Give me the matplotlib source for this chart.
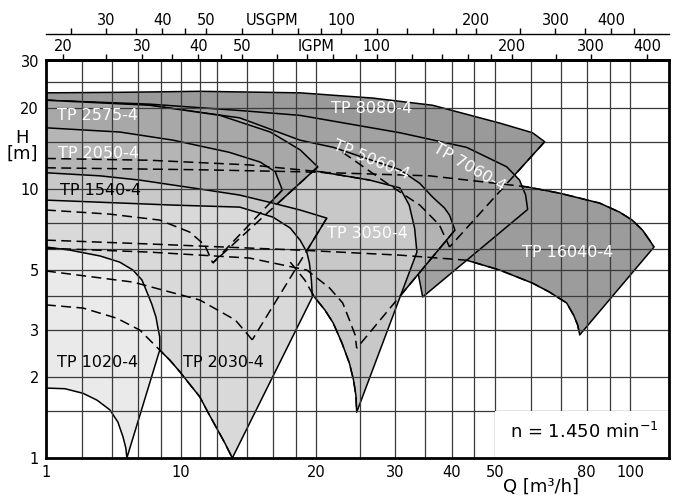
import matplotlib
matplotlib.use("Agg")
import matplotlib.pyplot as plt
from matplotlib.patches import Polygon, Rectangle
from matplotlib.ticker import NullLocator, FixedLocator, FixedFormatter

# ----------------------------- data -----------------------------
# Q in m3/h, H in m ; each pump: max-impeller curve and min-impeller curve (left -> right)
tp16040_max_q = [5, 11.0, 18.4, 35.8, 58.7, 69.6, 85.5, 94.7, 101, 106.5, 110.4, 113]
tp16040_max_h = [12.0, 11.8, 11.6, 11.2, 10.2, 9.66, 8.87, 8.21, 7.67, 7.04, 6.46, 6.09]
tp16040_min_q = [5, 8.5, 18.4, 30.7, 43.2, 51.2, 60.6, 66.1, 72.2, 74.8, 76.4, 77.2]
tp16040_min_h = [6.46, 6.25, 5.93, 5.68, 5.44, 5.0, 4.47, 4.14, 3.77, 3.40, 3.12, 2.87]

tp8080_max_q = [5, 7.3, 11.0, 18.4, 26.7, 36.3, 51.2, 60.6, 64.5]
tp8080_max_h = [22.8, 22.9, 23.1, 22.8, 21.8, 20.5, 17.6, 16.2, 15.0]
tp8080_min_q = [5, 8.5, 14.2, 22.9, 29.1, 34.0, 37.6, 39.6]
tp8080_min_h = [17.3, 16.9, 15.9, 13.7, 10.35, 8.72, 7.35, 6.09]

tp7060_max_q = [5, 8.5, 13.5, 18.4, 30.7, 43.2, 53.1, 56.7, 58.5, 59.1]
tp7060_max_h = [21.4, 20.7, 19.6, 18.8, 16.2, 14.3, 12.1, 10.8, 9.5, 8.4]
tp7060_min_q = [5, 8.5, 14.2, 23.7, 30.7, 33.6, 34.1, 34.5]
tp7060_min_h = [8.0, 7.67, 7.04, 6.19, 5.54, 5.0, 4.4, 3.97]

tp5060_max_q = [5, 8.5, 13.5, 18.4, 21.8, 30.7, 34.0, 36.3, 38.6, 39.6, 40.7]
tp5060_max_h = [21.4, 20.5, 18.4, 15.2, 14.3, 11.8, 10.5, 9.34, 8.5, 8.0, 7.04]
tp5060_min_q = [5, 8.5, 14.2, 19.05, 21.4, 22.9, 23.7, 24.4, 24.6]
tp5060_min_h = [6.03, 5.83, 5.54, 5.0, 4.29, 3.77, 3.26, 2.87, 2.56]

tp3050_max_q = [5, 8.5, 14.2, 20.4, 26.3, 30.7, 32.2, 33.1, 33.5]
tp3050_max_h = [13.0, 12.8, 12.3, 11.6, 10.8, 10.1, 8.72, 7.16, 5.83]
tp3050_min_q = [5, 11.0, 17.5, 18.85, 19.8, 20.9, 21.8, 22.8, 23.7, 24.2, 24.5, 24.6]
tp3050_min_h = [5.83, 5.64, 5.35, 4.59, 3.97, 3.55, 3.18, 2.68, 2.25, 1.95, 1.71, 1.48]

tp2575_max_q = [5, 8.5, 12.2, 15.8, 18.4, 20.15]
tp2575_max_h = [21.4, 20.5, 18.8, 16.3, 14.0, 12.1]
tp2575_min_q = [5, 6.94, 8.96, 10.45, 11.29, 11.76]
tp2575_min_h = [8.36, 8.07, 7.67, 6.92, 6.19, 5.31]

tp2050_max_q = [5, 7.3, 9.6, 12.8, 15.0, 16.2, 16.8]
tp2050_max_h = [16.9, 16.3, 15.2, 13.7, 12.6, 11.6, 9.92]
tp2050_min_q = [5, 6.94, 8.96, 10.45, 11.29, 11.76]
tp2050_min_h = [8.36, 8.07, 7.67, 6.92, 6.19, 5.31]

tp1540_max_q = [5, 6.6, 8.09, 11.4, 13.5, 16.0, 18.4, 21.1]
tp1540_max_h = [11.5, 11.2, 10.8, 9.92, 9.5, 8.87, 8.36, 7.8]
tp1540_min_q = [5, 7.81, 11.0, 13.2, 14.4]
tp1540_min_h = [4.96, 4.51, 3.87, 3.26, 2.75]

tp2030_max_q = [5, 9.6, 13.5, 16.0, 17.5, 18.4, 19.05, 19.3, 19.5, 19.6]
tp2030_max_h = [9.1, 8.72, 8.57, 7.87, 7.16, 6.46, 5.83, 5.31, 4.59, 3.97]
tp2030_min_q = [5, 6.05, 7.19, 8.09, 8.96, 9.44, 9.94, 10.45, 11.0, 11.47, 12.0, 12.5, 13.0]
tp2030_min_h = [3.71, 3.61, 3.31, 2.99, 2.52, 2.31, 2.09, 1.88, 1.69, 1.48, 1.29, 1.14, 1.0]

tp1020_max_q = [5, 5.65, 6.6, 7.3, 7.81, 8.18, 8.39, 8.6, 8.79, 8.87, 8.96, 8.96]
tp1020_max_h = [6.09, 5.93, 5.64, 5.35, 5.0, 4.59, 4.14, 3.74, 3.34, 3.07, 2.82, 2.52]
tp1020_min_q = [5, 5.51, 6.05, 6.5, 6.94, 7.23, 7.42, 7.53, 7.57]
tp1020_min_h = [1.82, 1.81, 1.74, 1.64, 1.51, 1.36, 1.2, 1.09, 1.0]

# axis ticks / grid
x_tick_vals = [5, 10, 20, 30, 40, 50, 80, 100]
x_tick_labels = ["1", "10", "20", "30", "40", "50", "80", "100"]
y_tick_vals = [1, 2, 3, 5, 10, 20, 30]
y_tick_labels = ["1", "2", "3", "5", "10", "20", "30"]
grid_q = [6, 7, 8, 9, 10, 11, 12, 14, 16, 18, 20, 25, 30, 35, 40, 45, 50, 60, 70, 80, 90, 100]
grid_h = [1.5, 2, 3, 4, 5, 6, 7.5, 10, 15, 20, 25]
usgpm_ticks = [25, 30, 35, 40, 45, 50, 60, 70, 80, 90, 100, 120, 140, 160, 180, 200,
               250, 300, 350, 400, 450]
usgpm_labels = {30: "30", 40: "40", 50: "50", 70: "USGPM", 100: "100", 200: "200",
                300: "300", 400: "400"}
igpm_ticks = [20, 25, 30, 35, 40, 45, 50, 60, 70, 80, 90, 100, 120, 140, 160, 180, 200,
              250, 300, 400]
igpm_labels = {20: "20", 30: "30", 40: "40", 50: "50", 100: "100", 200: "200",
               300: "300", 400: "400"}

# ----------------------------- figure -----------------------------
fig = plt.figure(figsize=(6.78, 4.98), dpi=100)
ax = fig.add_axes([0.0678, 0.0803, 0.9189, 0.7992])
ax.set_xscale("log")
ax.set_yscale("log")
ax.set_xlim(5, 122)
ax.set_ylim(1, 30.2)

pumps = [  # back -> front
    (tp16040_max_q, tp16040_max_h, tp16040_min_q, tp16040_min_h, "#9c9c9c"),
    (tp8080_max_q, tp8080_max_h, tp8080_min_q, tp8080_min_h, "#9a9a9a"),
    (tp7060_max_q, tp7060_max_h, tp7060_min_q, tp7060_min_h, "#a2a2a2"),
    (tp5060_max_q, tp5060_max_h, tp5060_min_q, tp5060_min_h, "#b3b3b3"),
    (tp3050_max_q, tp3050_max_h, tp3050_min_q, tp3050_min_h, "#c8c8c8"),
    (tp2575_max_q, tp2575_max_h, tp2575_min_q, tp2575_min_h, "#a8a8a8"),
    (tp2050_max_q, tp2050_max_h, tp2050_min_q, tp2050_min_h, "#b5b5b5"),
    (tp1540_max_q, tp1540_max_h, tp1540_min_q, tp1540_min_h, "#c9c9c9"),
    (tp2030_max_q, tp2030_max_h, tp2030_min_q, tp2030_min_h, "#d9d9d9"),
    (tp1020_max_q, tp1020_max_h, tp1020_min_q, tp1020_min_h, "#eaeaea"),
]

for i, (mq, mh, nq, nh, col) in enumerate(pumps):
    pts = list(zip(mq, mh)) + list(zip(nq[::-1], nh[::-1]))
    poly = Polygon(pts, closed=True, facecolor=col, edgecolor="black",
                   linewidth=1.1, joinstyle="round", zorder=1 + i * 0.1)
    ax.add_patch(poly)

# grid on top of the fills
for q in grid_q:
    ax.axvline(q, color="#3a3a3a", lw=0.9, zorder=3)
for h in grid_h:
    ax.axhline(h, color="#3a3a3a", lw=0.9, zorder=3)


# hidden curve parts drawn dashed
def right_line(mq, mh, nq, nh):
    return [mq[-1], nq[-1]], [mh[-1], nh[-1]]


dashed = [
    (tp16040_max_q, tp16040_max_h),
    (tp16040_min_q, tp16040_min_h),
    right_line(tp8080_max_q, tp8080_max_h, tp8080_min_q, tp8080_min_h),
    (tp8080_min_q[3:], tp8080_min_h[3:]),
    right_line(tp5060_max_q, tp5060_max_h, tp5060_min_q, tp5060_min_h),
    (tp5060_min_q, tp5060_min_h),
    (tp3050_max_q[:5], tp3050_max_h[:5]),
    (tp3050_min_q[2:], tp3050_min_h[2:]),
    right_line(tp2575_max_q, tp2575_max_h, tp2575_min_q, tp2575_min_h),
    (tp2050_min_q, tp2050_min_h),
    right_line(tp2050_max_q, tp2050_max_h, tp2050_min_q, tp2050_min_h),
    right_line(tp1540_max_q, tp1540_max_h, tp1540_min_q, tp1540_min_h),
    (tp1540_min_q, tp1540_min_h),
    (tp2030_min_q, tp2030_min_h),
]
for xs, ys in dashed:
    ax.plot(xs, ys, color="black", lw=1.1, linestyle=(0, (6.5, 3.5)), zorder=4)

# white box behind speed note
ax.add_patch(Rectangle((50, 1.0), 72, 0.5, facecolor="white", edgecolor="none", zorder=3.5))

# region labels
lab_kw = dict(fontsize=11.5, zorder=6, va="center")
ax.text(5.29, 18.8, "TP 2575-4", color="white", ha="left", **lab_kw)
ax.text(5.31, 13.6, "TP 2050-4", color="white", ha="left", **lab_kw)
ax.text(5.37, 9.92, "TP 1540-4", color="black", ha="left", **lab_kw)
ax.text(21.6, 20.0, "TP 8080-4", color="white", ha="left", **lab_kw)
ax.text(26.5, 12.8, "TP 5060-4", color="white", ha="center", rotation=-22, **lab_kw)
ax.text(43.9, 12.0, "TP 7060-4", color="white", ha="center", rotation=-30, **lab_kw)
ax.text(21.1, 6.86, "TP 3050-4", color="white", ha="left", **lab_kw)
ax.text(57.3, 5.79, "TP 16040-4", color="white", ha="left", **lab_kw)
ax.text(5.29, 2.27, "TP 1020-4", color="black", ha="left", **lab_kw)
ax.text(10.09, 2.27, "TP 2030-4", color="black", ha="left", **lab_kw)
ax.text(53.9, 1.25, "n = 1.450 min$^{-1}$", color="black", ha="left", va="center",
        fontsize=13, zorder=6)

# axes styling
for s in ax.spines.values():
    s.set_linewidth(2)
    s.set_zorder(7)
ax.xaxis.set_major_locator(FixedLocator(x_tick_vals))
ax.xaxis.set_major_formatter(FixedFormatter(x_tick_labels))
ax.xaxis.set_minor_locator(NullLocator())
ax.yaxis.set_major_locator(FixedLocator(y_tick_vals))
ax.yaxis.set_major_formatter(FixedFormatter(y_tick_labels))
ax.yaxis.set_minor_locator(NullLocator())
ax.tick_params(axis="both", length=0, labelsize=10.5)
ax.tick_params(axis="x", pad=5)
ax.tick_params(axis="y", pad=5)

ax.text(63.2, -0.072, "Q [m\u00b3/h]", transform=ax.get_xaxis_transform(),
        ha="center", va="center", fontsize=13)
fig.text(22 / 678, 1 - 146 / 498, "H\n[m]", ha="center", va="center", fontsize=13,
         linespacing=0.85)


# top scales
def q2ig(q):
    return q * 3.6662


def ig2q(g):
    return g / 3.6662


def q2us(q):
    return q * 4.4029


def us2q(u):
    return u / 4.4029


sec_ig = ax.secondary_xaxis("top", functions=(q2ig, ig2q))
sec_ig.xaxis.set_major_locator(FixedLocator(igpm_ticks))
sec_ig.xaxis.set_major_formatter(FixedFormatter([igpm_labels.get(t, "") for t in igpm_ticks]))
sec_ig.xaxis.set_minor_locator(NullLocator())
sec_ig.tick_params(direction="out", length=4, width=1, labelsize=10.5, pad=0)
sec_ig.spines["top"].set_linewidth(2)
ax.text(20.0, 1.034, "IGPM", transform=ax.get_xaxis_transform(), ha="center",
        va="center", fontsize=10.5)

sec_us = ax.secondary_xaxis(1.0653, functions=(q2us, us2q))
sec_us.xaxis.set_major_locator(FixedLocator(usgpm_ticks))
sec_us.xaxis.set_major_formatter(FixedFormatter([usgpm_labels.get(t, "") for t in usgpm_ticks]))
sec_us.xaxis.set_minor_locator(NullLocator())
sec_us.tick_params(direction="out", length=4, width=1, labelsize=10.5, pad=0)
sec_us.spines["top"].set_linewidth(1)

fig.savefig("out.png", dpi=100)
